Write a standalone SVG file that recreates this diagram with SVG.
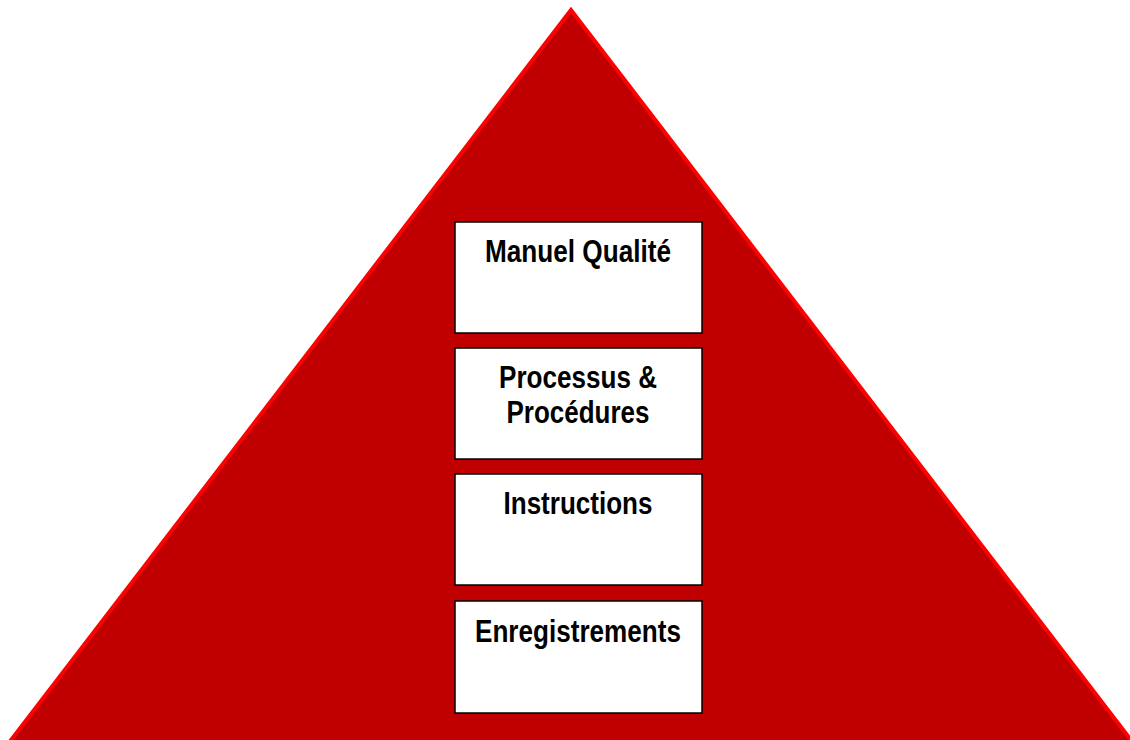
<svg xmlns="http://www.w3.org/2000/svg" width="1130" height="740" viewBox="0 0 1130 740">
<style>
.box{fill:#fff;stroke:#000;stroke-width:1.5}
.lbl{font-family:"Liberation Sans Narrow","Liberation Sans",Arial,sans-serif;font-weight:bold;font-size:31px;fill:#000;text-anchor:middle}
</style>
<rect width="1130" height="740" fill="#fff"/>
<g id="pyramid">
<polygon points="571,10 8,744 1134,744" fill="#C00000" stroke="#FF0000" stroke-width="4" stroke-linejoin="miter"/>
</g>
<g id="connectors"></g>
<g id="manuel">
<rect class="box" x="455" y="222" width="247" height="111"/>
<text class="lbl" x="578" y="262" textLength="186" lengthAdjust="spacingAndGlyphs">Manuel Qualité</text>
</g>
<g id="processus">
<rect class="box" x="455" y="348" width="247" height="111"/>
<text class="lbl" x="578" y="388" textLength="158" lengthAdjust="spacingAndGlyphs">Processus &amp;</text>
<text class="lbl" x="578" y="423" textLength="143" lengthAdjust="spacingAndGlyphs">Procédures</text>
</g>
<g id="instructions">
<rect class="box" x="455" y="474" width="247" height="111"/>
<text class="lbl" x="578" y="514" textLength="149" lengthAdjust="spacingAndGlyphs">Instructions</text>
</g>
<g id="enregistrements">
<rect class="box" x="455" y="601" width="247" height="112"/>
<text class="lbl" x="578" y="642" textLength="206" lengthAdjust="spacingAndGlyphs">Enregistrements</text>
</g>
</svg>
